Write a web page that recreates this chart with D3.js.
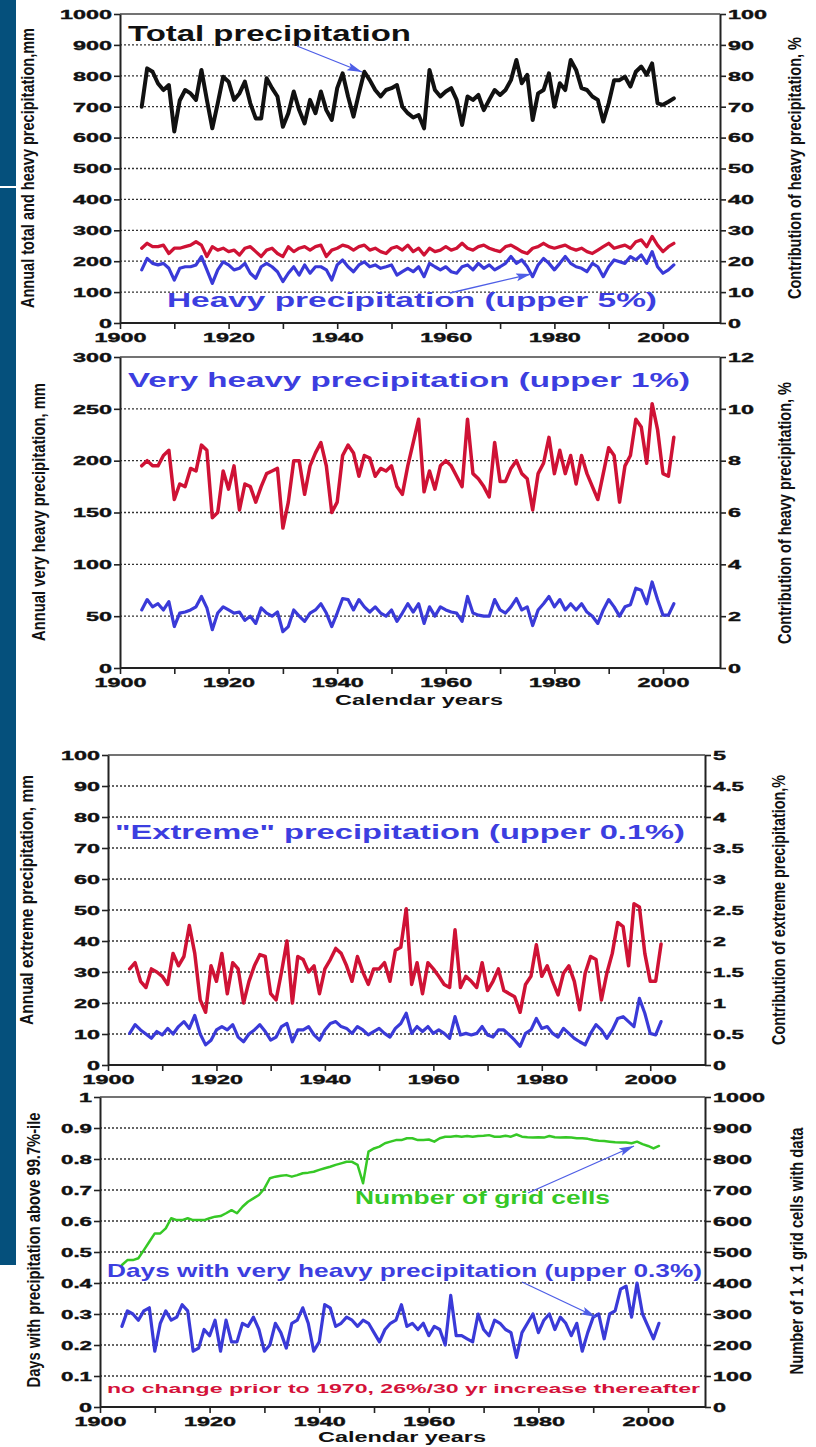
<!DOCTYPE html>
<html>
<head>
<meta charset="utf-8">
<script src="https://cdn.jsdelivr.net/npm/d3@7"></script>
<style>
  body{margin:0;background:#fff;}
  svg{display:block;}
  text{font-family:"Liberation Sans",Arial,Helvetica,sans-serif;font-weight:bold;}
</style>
</head>
<body>
<svg id="chart" width="816" height="1447"></svg>
<script>
// ---- data, years 1904..2002 ----
var years = d3.range(1904, 2003);

// panel 1
var totalPrecip = [700,824,813,775,754,770,620,720,754,743, 722,819,722,630,711,797,781,722,743,781,
  711,662,662,792,760,733,635,679,749,689, 646,722,679,749,689,657,760,808,733,668,
  743,813,786,754,733,754,760,770,700,679, 665,673,630,819,754,733,749,760,722,641,
  733,722,738,689,722,754,738,754,786,851, 776,803,657,743,754,808,700,776,754,851,
  819,760,754,733,722,652,711,786,786,797, 765,813,830,803,840,711,706,716,727];
var heavyPrecip = [172,209,193,188,193,177,139,177,182,182, 188,215,172,128,172,198,188,172,177,193,
  161,145,182,193,182,166,134,161,182,155, 188,161,182,182,172,139,188,204,182,166,
  188,198,182,188,177,182,188,155,166,177, 166,182,150,193,182,172,182,166,161,182,
  188,172,193,177,188,172,182,193,215,193, 204,182,150,188,209,193,172,193,215,193,
  182,177,166,193,182,150,182,204,198,193, 215,204,220,193,231,182,161,172,188];
var heavyShare = [24.2,25.8,24.7,24.7,25.2,22.5,24.2,24.2,24.7,25.2, 26.3,25.2,21.5,24.7,23.6,24.2,23.1,23.6,22.0,24.2,
  24.7,23.1,21.5,23.6,24.2,22.5,21.5,24.7,23.1,24.2, 24.7,23.6,24.7,25.2,21.5,23.6,24.2,25.2,24.7,23.6,
  24.7,25.2,23.6,24.2,23.1,22.5,24.2,24.7,23.6,25.2, 23.1,24.2,22.0,24.2,23.1,23.6,24.7,23.6,24.2,25.8,
  24.2,23.6,24.7,25.2,24.2,23.6,23.1,24.7,25.2,24.2, 23.1,22.5,24.2,24.7,25.8,24.7,24.2,24.7,25.2,24.2,
  23.6,24.2,23.1,22.5,23.6,24.7,25.8,24.2,24.7,25.2, 24.2,26.3,26.9,24.7,28.0,25.2,23.1,24.7,25.8];

// panel 2
var veryHeavyPrecip = [56,66,59,62,56,64,40,53,54,56, 59,69,58,37,53,59,56,53,54,46,
  50,43,58,53,50,54,35,40,56,50, 45,53,56,62,53,40,53,67,66,56,
  66,59,54,59,53,50,56,45,53,62, 54,62,43,59,50,59,56,54,53,45,
  69,53,51,50,50,66,56,53,59,67, 56,59,41,56,62,69,59,66,56,62,
  56,62,54,50,43,56,66,59,50,59, 61,77,75,62,83,66,51,51,62];
var veryHeavyShare = [7.8,8.0,7.8,7.8,8.2,8.4,6.5,7.1,7.0,7.7, 7.6,8.6,8.4,5.8,6.0,7.6,6.9,7.8,6.1,7.1,
  7.0,6.4,7.0,7.5,7.6,7.7,5.4,6.4,8.0,8.0, 6.7,7.8,8.3,8.7,7.8,6.0,6.4,8.2,8.6,8.3,
  7.4,8.2,8.1,7.4,7.7,7.6,7.8,7.0,6.7,7.8, 8.7,9.6,6.8,7.6,6.9,7.8,8.0,7.8,7.4,7.0,
  9.6,7.5,7.3,7.0,6.6,8.7,7.2,7.2,7.7,8.0, 7.5,7.3,6.1,7.5,7.9,8.9,7.5,8.4,7.5,8.2,
  7.1,8.2,7.5,7.0,6.5,7.5,8.5,8.2,6.4,7.8, 8.2,9.6,9.3,7.9,10.2,9.2,7.5,7.4,8.9];

// panel 3
var extremePrecip = [10.2,13,11.3,10,8.6,10.8,9.7,11.8,10,12.4, 14,11.8,16,10,6.5,8,11.3,12.4,11.3,13,
  9,7.5,10,11.3,13,10.8,8,9,12.4,13.4, 7.5,11.3,11.3,12.4,9.7,8,11.3,13.4,14,12.4,
  11.8,10.2,12.4,11.3,9.7,10.8,11.8,10.2,9,11.8, 13.4,16.7,10.2,12.4,10.8,12.4,10.2,11.3,10.2,8.6,
  15.6,9.7,10.2,9.7,10.2,12.4,9.7,9,11.3,11.3, 9.7,8,6,10.2,11.3,15,11.8,12.4,10.2,9,
  11.8,10.2,8.6,7.5,6.5,10.2,13,11.3,8.6,11.3, 15,15.6,14,12.4,21.5,16.7,10.2,9.7,14];
var extremeShare = [1.55,1.65,1.35,1.25,1.55,1.5,1.43,1.3,1.8,1.6, 1.75,2.25,1.8,1.05,0.85,1.6,1.35,1.8,1.15,1.65,
  1.55,1.0,1.35,1.6,1.78,1.75,1.15,1.05,1.5,2.0, 1.0,1.75,1.7,1.5,1.6,1.15,1.55,1.7,1.88,1.8,
  1.6,1.35,1.75,1.5,1.3,1.55,1.55,1.65,1.35,1.85, 1.9,2.52,1.3,1.65,1.15,1.65,1.55,1.43,1.3,1.25,
  2.18,1.25,1.43,1.35,1.25,1.65,1.2,1.35,1.55,1.2, 1.15,1.1,0.85,1.3,1.43,1.94,1.43,1.6,1.35,1.13,
  1.48,1.6,1.35,0.89,1.48,1.75,1.7,1.05,1.48,1.8, 2.3,2.23,1.6,2.6,2.55,1.8,1.35,1.35,1.95];

// panel 4
var daysAbove = [.26,.31,.30,.28,.31,.32,.18,.27,.31,.28, .29,.33,.31,.18,.19,.25,.23,.28,.18,.28,
  .21,.21,.27,.26,.29,.25,.18,.20,.27,.24, .19,.27,.28,.32,.27,.18,.21,.33,.32,.26,
  .27,.29,.28,.26,.28,.27,.24,.21,.25,.27, .28,.33,.26,.27,.25,.27,.23,.26,.25,.20,
  .36,.23,.23,.22,.21,.30,.25,.23,.28,.27, .25,.24,.16,.24,.27,.30,.24,.28,.30,.25,
  .29,.27,.23,.27,.18,.24,.29,.30,.22,.30, .31,.38,.39,.29,.40,.30,.26,.22,.27];
var gridCells = [458,474,474,480,506,533,560,560,576,609, 603,603,609,603,603,603,609,614,616,625,
  635,625,646,662,673,684,705,738,743,746, 748,743,748,754,756,759,765,770,775,781,
  786,791,791,781,722,824,834,840,851,856, 861,861,867,867,861,861,863,856,867,872,
  872,874,872,874,872,874,875,877,872,872, 875,872,879,872,870,869,870,869,874,870,
  869,870,869,867,867,865,861,859,858,856, 854,853,853,851,856,848,842,834,842];

// tick labels
var yearTicks = [1900,1910,1920,1930,1940,1950,1960,1970,1980,1990,2000];
var p1LeftTicks = [0,100,200,300,400,500,600,700,800,900,1000];
var p1RightTicks = [0,10,20,30,40,50,60,70,80,90,100];
var p2LeftTicks = [0,50,100,150,200,250,300];
var p2RightTicks = [0,2,4,6,8,10,12];
var p3LeftTicks = [0,10,20,30,40,50,60,70,80,90,100];
var p3RightTicks = [0,0.5,1,1.5,2,2.5,3,3.5,4,4.5,5];
var p4LeftTicks = [0,0.1,0.2,0.3,0.4,0.5,0.6,0.7,0.8,0.9,1];
var p4RightTicks = [0,100,200,300,400,500,600,700,800,900,1000];

var RED = "#cf1235", BLUE = "#3a3ad8", GREEN = "#36c826", TXTBLUE = "#3c3ee0", ARROW = "#4e5ee6";

var panels = [
  {x0:120, x1:720, y0:14, y1:323, xMax:2010.5,
   leftTicks:p1LeftTicks, rightTicks:p1RightTicks, xTitle:false,
   series:[{v:heavyShare, axis:"r", c:RED, w:3.3},
           {v:heavyPrecip, axis:"l", c:BLUE, w:3.2},
           {v:totalPrecip, axis:"l", c:"#111", w:4}],
   leftTitle:{t:"Annual total and heavy precipitation,mm", x:34, y:168, len:280},
   rightTitle:{t:"Contribution of heavy precipitation, %", x:801, y:168, len:262}},
  {x0:120, x1:720, y0:357, y1:668, xMax:2010.5,
   leftTicks:p2LeftTicks, rightTicks:p2RightTicks, xTitle:{x:419, y:705},
   series:[{v:veryHeavyShare, axis:"r", c:RED, w:3.5},
           {v:veryHeavyPrecip, axis:"l", c:BLUE, w:3.2}],
   leftTitle:{t:"Annual very heavy precipitation, mm", x:45, y:512, len:258},
   rightTitle:{t:"Contribution of heavy precipitation, %", x:791, y:513, len:262}},
  {x0:108, x1:705, y0:755, y1:1065, xMax:2010.1,
   leftTicks:p3LeftTicks, rightTicks:p3RightTicks, xTitle:false,
   series:[{v:extremeShare, axis:"r", c:RED, w:3.5},
           {v:extremePrecip, axis:"l", c:BLUE, w:3.2}],
   leftTitle:{t:"Annual extreme precipitation, mm", x:33, y:900, len:250},
   rightTitle:{t:"Contribution of extreme precipitation,%", x:785, y:910, len:270}},
  {x0:100, x1:705, y0:1097, y1:1407, xMax:2010.4,
   leftTicks:p4LeftTicks, rightTicks:p4RightTicks, xTitle:{x:402, y:1442},
   series:[{v:gridCells, axis:"r", c:GREEN, w:2.5},
           {v:daysAbove, axis:"l", c:BLUE, w:3.2}],
   leftTitle:{t:"Days with precipitation above 99.7%-ile", x:40, y:1250, len:275},
   rightTitle:{t:"Number of 1 x 1 grid cells with data", x:803, y:1251, len:247}}
];

var notes = [
  {t:"Total precipitation", x:128, y:41, fs:22, len:283, c:"#111"},
  {t:"Heavy precipitation (upper 5%)", x:167, y:307, fs:21, len:490, c:TXTBLUE},
  {t:"Very heavy precipitation (upper 1%)", x:128, y:387, fs:21, len:562, c:TXTBLUE},
  {t:"\"Extreme\" precipitation (upper 0.1%)", x:115, y:839, fs:20, len:570, c:TXTBLUE},
  {t:"Number of grid cells", x:355, y:1204, fs:19, len:255, c:GREEN},
  {t:"Days with very heavy precipitation (upper 0.3%)", x:107, y:1277, fs:19, len:595, c:TXTBLUE},
  {t:"no change prior to 1970, 26%/30 yr increase thereafter", x:107, y:1393, fs:13.5, len:593, c:"#d4123a"}
];

var arrows = [
  {x1:297, y1:46, x2:362, y2:72},
  {x1:450, y1:293, x2:531, y2:274},
  {x1:528, y1:1193, x2:634, y2:1146},
  {x1:522, y1:1282, x2:596, y2:1317}
];

// ---- drawing ----
var svg = d3.select("#chart");

// left sidebar
svg.append("rect").attr("x",0).attr("y",0).attr("width",16).attr("height",1265).attr("fill","#05507c");
svg.append("rect").attr("x",0).attr("y",186).attr("width",16).attr("height",2).attr("fill","#fff");

svg.append("defs").append("marker")
  .attr("id","ahead").attr("markerUnits","userSpaceOnUse")
  .attr("markerWidth",16).attr("markerHeight",10)
  .attr("refX",15).attr("refY",4).attr("orient","auto")
  .append("path").attr("d","M0,0 L15,4 L0,8 L3,4 Z").attr("fill",ARROW);

function labLen(s){
  var w = 0;
  String(s).split("").forEach(function(ch){ w += (ch=="." ? 5 : 13); });
  return w;
}
function fmt(d){ return String(+d.toFixed(2)); }

function styleAxis(g){
  g.select(".domain").attr("stroke","#222").attr("stroke-width",2);
  g.selectAll(".tick line").attr("stroke","#222").attr("stroke-width",1.6);
  g.selectAll(".tick text")
    .style("font-size","13.5px").attr("fill","#111")
    .attr("stroke","#111").attr("stroke-width",0.4)
    .attr("textLength", function(){ return labLen(this.textContent); })
    .attr("lengthAdjust","spacingAndGlyphs");
}

panels.forEach(function(p){
  var x = d3.scaleLinear().domain([1900, p.xMax]).range([p.x0, p.x1]);
  var yl = d3.scaleLinear().domain([p.leftTicks[0], p.leftTicks[p.leftTicks.length-1]]).range([p.y1, p.y0]);
  var yr = d3.scaleLinear().domain([p.rightTicks[0], p.rightTicks[p.rightTicks.length-1]]).range([p.y1, p.y0]);
  var g = svg.append("g");

  // dotted grid
  g.selectAll("line.grid").data(p.leftTicks.slice(1, -1)).enter().append("line")
    .attr("x1", p.x0).attr("x2", p.x1)
    .attr("y1", function(d){ return yl(d); }).attr("y2", function(d){ return yl(d); })
    .attr("stroke","#333").attr("stroke-width",1.3).attr("stroke-dasharray","2,2");

  // top frame
  g.append("line").attr("x1",p.x0).attr("x2",p.x1).attr("y1",p.y0).attr("y2",p.y0)
    .attr("stroke","#444").attr("stroke-width",1.6);

  // series
  p.series.forEach(function(s){
    var sc = s.axis=="l" ? yl : yr;
    var line = d3.line().x(function(d,i){ return x(years[i]); }).y(function(d){ return sc(d); });
    g.append("path").datum(s.v).attr("d", line)
      .attr("fill","none").attr("stroke", s.c).attr("stroke-width", s.w)
      .attr("stroke-linejoin","round").attr("stroke-linecap","round");
  });

  // axes
  var ax = g.append("g").attr("transform","translate(0,"+p.y1+")")
    .call(d3.axisBottom(x).tickValues(yearTicks).tickSize(6).tickPadding(3).tickSizeOuter(0)
      .tickFormat(function(d){ return d % 20 == 0 ? d : ""; }));
  styleAxis(ax);
  ax.select(".domain").attr("d","M"+p.x0+",0H"+p.x1);

  var al = g.append("g").attr("transform","translate("+p.x0+",0)")
    .call(d3.axisLeft(yl).tickValues(p.leftTicks).tickSize(6).tickPadding(2).tickSizeOuter(0).tickFormat(fmt));
  styleAxis(al);
  var ar = g.append("g").attr("transform","translate("+p.x1+",0)")
    .call(d3.axisRight(yr).tickValues(p.rightTicks).tickSize(6).tickPadding(2).tickSizeOuter(0).tickFormat(fmt));
  styleAxis(ar);

  // titles (rotated; glyphs thickened across the line like the stretched original)
  [p.leftTitle, p.rightTitle].forEach(function(t){
    svg.append("text").text(t.t)
      .attr("transform","translate("+t.x+","+t.y+") rotate(-90) scale(1,1.35)")
      .attr("text-anchor","middle").style("font-size","13.5px").attr("fill","#111")
      .attr("textLength", t.len).attr("lengthAdjust","spacingAndGlyphs");
  });
  if(p.xTitle){
    svg.append("text").text("Calendar years")
      .attr("x", p.xTitle.x).attr("y", p.xTitle.y).attr("text-anchor","middle")
      .style("font-size","14px").attr("fill","#111")
      .attr("textLength", 168).attr("lengthAdjust","spacingAndGlyphs");
  }
});

svg.selectAll("text.note").data(notes).enter().append("text").attr("class","note")
  .attr("x", function(d){ return d.x; }).attr("y", function(d){ return d.y; })
  .style("font-size", function(d){ return d.fs+"px"; })
  .attr("fill", function(d){ return d.c; })
  .attr("textLength", function(d){ return d.len; }).attr("lengthAdjust","spacingAndGlyphs")
  .text(function(d){ return d.t; });

svg.selectAll("line.arrow").data(arrows).enter().append("line").attr("class","arrow")
  .attr("x1", function(d){ return d.x1; }).attr("y1", function(d){ return d.y1; })
  .attr("x2", function(d){ return d.x2; }).attr("y2", function(d){ return d.y2; })
  .attr("stroke", ARROW).attr("stroke-width",1.3).attr("marker-end","url(#ahead)");
</script>
</body>
</html>
